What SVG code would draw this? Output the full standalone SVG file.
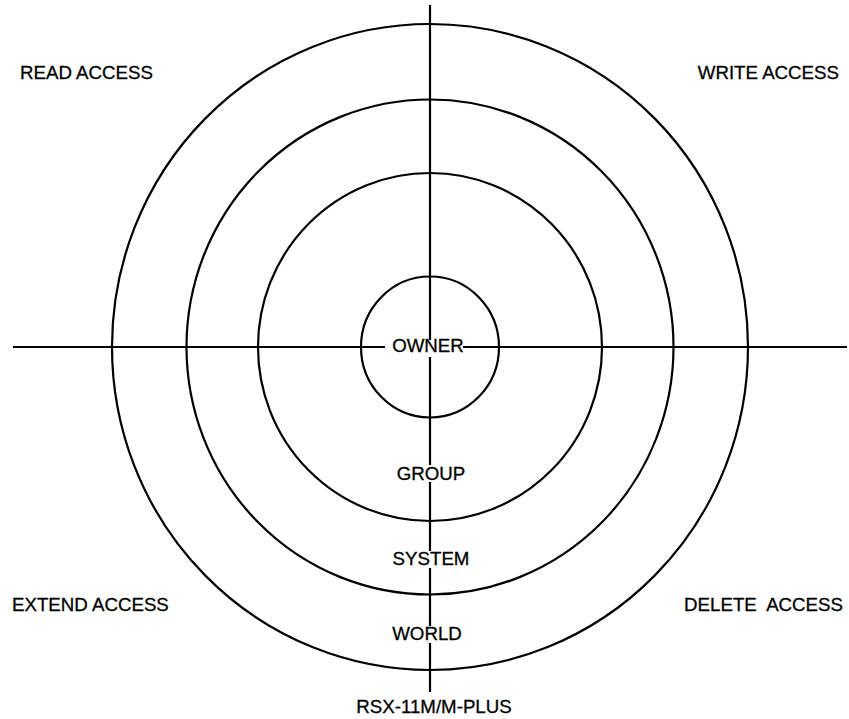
<svg xmlns="http://www.w3.org/2000/svg" width="849" height="719" viewBox="0 0 849 719">
<style>
.ring{fill:none;stroke:#000;stroke-width:2.2}
.axis{fill:none;stroke:#000;stroke-width:2.2}
text{font-family:"Liberation Sans",Arial,sans-serif;font-size:18.7px;fill:#000;stroke:#000;stroke-width:0.3}
.c{text-anchor:middle}
</style>
<rect width="849" height="719" fill="#fff"/>
<g id="world"><ellipse class="ring" cx="430" cy="347" rx="318" ry="323"/><text class="c" x="427" y="640">WORLD</text></g>
<g id="system"><ellipse class="ring" cx="430" cy="347" rx="243.5" ry="247.5"/><text class="c" x="431" y="565">SYSTEM</text></g>
<g id="group"><ellipse class="ring" cx="430" cy="347" rx="172" ry="174"/><text class="c" x="431" y="480">GROUP</text></g>
<g id="owner"><ellipse class="ring" cx="430" cy="347" rx="69" ry="70.5"/><text class="c" x="428" y="352">OWNER</text></g>
<g id="connectors">
<path class="axis" d="M13 347H385M463 347H847"/>
<path class="axis" d="M430 5V340M430 357V465M430 482V551M430 568V626M430 643V692"/>
</g>
<g id="labels">
<text x="20" y="79">READ ACCESS</text>
<text x="839" y="79" text-anchor="end">WRITE ACCESS</text>
<text x="12" y="611">EXTEND ACCESS</text>
<text x="843" y="611" text-anchor="end" style="white-space:pre">DELETE  ACCESS</text>
<text class="c" x="434" y="713">RSX-11M/M-PLUS</text>
</g>
</svg>
